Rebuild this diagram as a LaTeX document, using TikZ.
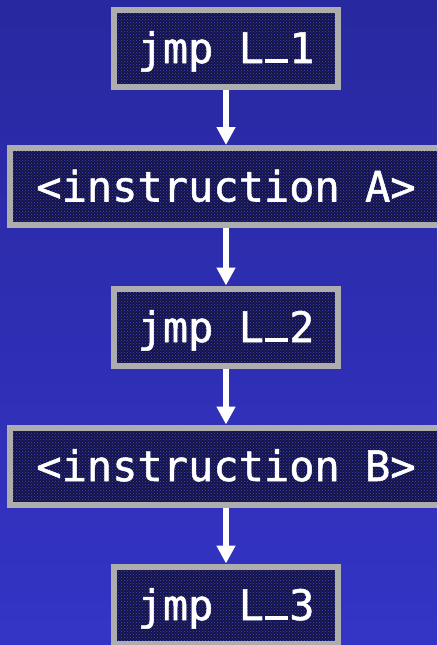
\documentclass[tikz,border=0pt]{standalone}
\usepackage{fontspec}
\newfontfamily\monof[FakeBold=1.2]{DejaVu Sans Mono}
\usetikzlibrary{arrows.meta,patterns}
\definecolor{bgtop}{HTML}{2828A0}
\definecolor{bgbot}{HTML}{3434C6}
\definecolor{boxfill}{HTML}{141444}
\definecolor{boxdots}{HTML}{4646CC}
\definecolor{boxborder}{HTML}{ADADAD}
\newcommand{\uscore}{\makebox[0.602em][c]{\rule{0.56em}{0.095em}}}
\tikzset{
  codebox/.style={draw=boxborder, line width=6pt,
    preaction={fill=boxfill}, pattern=crosshatch dots, pattern color=boxdots,
    text=white, font=\monof\fontsize{42}{42}\selectfont,
    inner sep=0pt, text height=30pt, text depth=0pt,
    minimum height=77pt},
  smallbox/.style={codebox, minimum width=224pt},
  widebox/.style={codebox, minimum width=432pt},
  flowarrow/.style={draw=white, line width=6pt, -{Triangle[width=18pt,length=18pt]}}
}
\begin{document}
\begin{tikzpicture}[x=1pt,y=-1pt]
\useasboundingbox (0,0) rectangle (437,645);
\clip (0,0) rectangle (437,645);
\shade[top color=bgtop,bottom color=bgbot] (0,0) rectangle (437,645);
\node[smallbox] (j1) at (226,48) {jmp L\uscore 1};
\node[widebox]  (ia) at (226,186.5) {<instruction A>};
\node[smallbox] (j2) at (226,327) {jmp L\uscore 2};
\node[widebox]  (ib) at (226,466) {<instruction B>};
\node[smallbox] (j3) at (226,605) {jmp L\uscore 3};
\draw[flowarrow] (j1.south) -- (ia.north);
\draw[flowarrow] (ia.south) -- (j2.north);
\draw[flowarrow] (j2.south) -- (ib.north);
\draw[flowarrow] (ib.south) -- (j3.north);
\end{tikzpicture}
\end{document}
